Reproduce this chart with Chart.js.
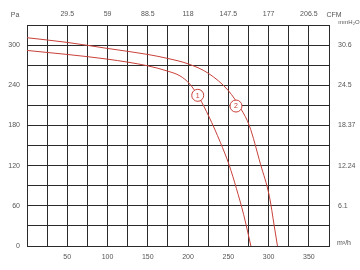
<!DOCTYPE html>
<html>
<head>
<meta charset="utf-8">
<script src="https://cdn.jsdelivr.net/npm/chart.js@4"></script>
<style>
html,body{margin:0;padding:0;background:#fff;}
#wrap{width:360px;height:270px;}
</style>
</head>
<body>
<div id="wrap"><canvas id="c" width="360" height="270"></canvas></div>
<script>
// Curve 1 (m³/h vs Pa)
const flow1 = [0, 50, 100, 150, 175, 190, 202, 214, 226, 240, 251, 260, 269, 278];
const pa1   = [292, 286, 279, 269, 261, 254, 242, 221, 193, 155, 121, 86, 47, 0];
// Curve 2
const flow2 = [0, 50, 100, 150, 175, 200, 225, 250, 266, 276, 290, 301, 307, 311];
const pa2   = [311, 304, 295, 286, 280, 272, 258, 232, 204, 180, 122, 74, 30, 0];
// Curve id markers
const curveIds   = ['1', '2'];
const markerFlow = [212, 259.5];
const markerPa   = [225, 209];
// Axis tick labels
const flowTicks  = [50, 100, 150, 200, 250, 300, 350];
const cfmLabels  = ['29.5', '59', '88.5', '118', '147.5', '177', '206.5'];
const paTicks    = [0, 60, 120, 180, 240, 300];
const mmTicks    = [60, 120, 180, 240, 300];
const mmLabels   = ['6.1', '12.24', '18.37', '24.5', '30.6'];

const RED = '#c8413b';
const GRID = '#2a2a2a';
const TXT = '#555';
const FONT = 'Liberation Sans, Arial, sans-serif';

const toXY = (xs, ys) => xs.map((x, i) => ({x: x, y: ys[i]}));

const unitPlugin = {
  id: 'units',
  afterDraw(chart) {
    const {ctx, chartArea: a} = chart;
    ctx.save();
    ctx.fillStyle = TXT;
    ctx.font = '7px ' + FONT;
    ctx.textAlign = 'center';
    ctx.textBaseline = 'middle';
    ctx.fillText('Pa', a.left - 12, a.top - 10);
    ctx.fillText('CFM', a.right + 5, a.top - 10);
    ctx.fillText('m³/h', a.right + 15, a.bottom - 3);
    ctx.font = '6px ' + FONT;
    ctx.fillText('mmH₂O', a.right + 20, a.top - 3);
    // marker numbers
    const meta = chart.getDatasetMeta(2);
    ctx.fillStyle = RED;
    ctx.font = '7px ' + FONT;
    meta.data.forEach((pt, i) => {
      ctx.fillText(curveIds[i], pt.x, pt.y + 0.5);
    });
    ctx.restore();
  }
};

new Chart(document.getElementById('c'), {
  type: 'scatter',
  data: {
    datasets: [
      {type: 'line', data: toXY(flow1, pa1), borderColor: RED, borderWidth: 1, pointRadius: 0,
       cubicInterpolationMode: 'monotone', fill: false, order: 2},
      {type: 'line', data: toXY(flow2, pa2), borderColor: RED, borderWidth: 1, pointRadius: 0,
       cubicInterpolationMode: 'monotone', fill: false, order: 2},
      {type: 'scatter', data: toXY(markerFlow, markerPa), pointRadius: 6, pointHoverRadius: 6,
       pointBackgroundColor: '#fff', pointBorderColor: RED, pointBorderWidth: 1, order: 1}
    ]
  },
  options: {
    responsive: false,
    animation: false,
    devicePixelRatio: 1,
    layout: {padding: 0},
    plugins: {legend: {display: false}, tooltip: {enabled: false}},
    scales: {
      x: {
        type: 'linear', position: 'bottom', min: 0, max: 375,
        afterFit: s => { s.height = 24; },
        border: {color: GRID, width: 1},
        grid: {color: GRID, lineWidth: 1, drawTicks: false},
        ticks: {stepSize: 25, autoSkip: false, maxRotation: 0, padding: 7, color: TXT,
          font: {size: 7, family: FONT},
          callback: v => flowTicks.includes(v) ? String(v) : ''}
      },
      x2: {
        type: 'linear', position: 'top', min: 0, max: 375,
        afterFit: s => { s.height = 25; },
        border: {color: GRID, width: 1},
        grid: {display: false, drawTicks: false},
        ticks: {stepSize: 25, autoSkip: false, maxRotation: 0, padding: 7, color: TXT,
          font: {size: 7, family: FONT},
          callback: v => { const i = flowTicks.indexOf(v); return i >= 0 ? cfmLabels[i] : ''; }}
      },
      y: {
        type: 'linear', position: 'left', min: 0, max: 330,
        afterFit: s => { s.width = 27; },
        border: {color: GRID, width: 1},
        grid: {color: GRID, lineWidth: 1, drawTicks: false},
        ticks: {stepSize: 30, autoSkip: false, padding: 7, color: TXT,
          font: {size: 7, family: FONT},
          callback: v => paTicks.includes(v) ? String(v) : ''}
      },
      y2: {
        type: 'linear', position: 'right', min: 0, max: 330,
        afterFit: s => { s.width = 31; },
        border: {color: GRID, width: 1},
        grid: {display: false, drawTicks: false},
        ticks: {stepSize: 30, autoSkip: false, padding: 9, color: TXT,
          font: {size: 7, family: FONT},
          callback: v => { const i = mmTicks.indexOf(v); return i >= 0 ? mmLabels[i] : ''; }}
      }
    }
  },
  plugins: [unitPlugin]
});
</script>
</body>
</html>
